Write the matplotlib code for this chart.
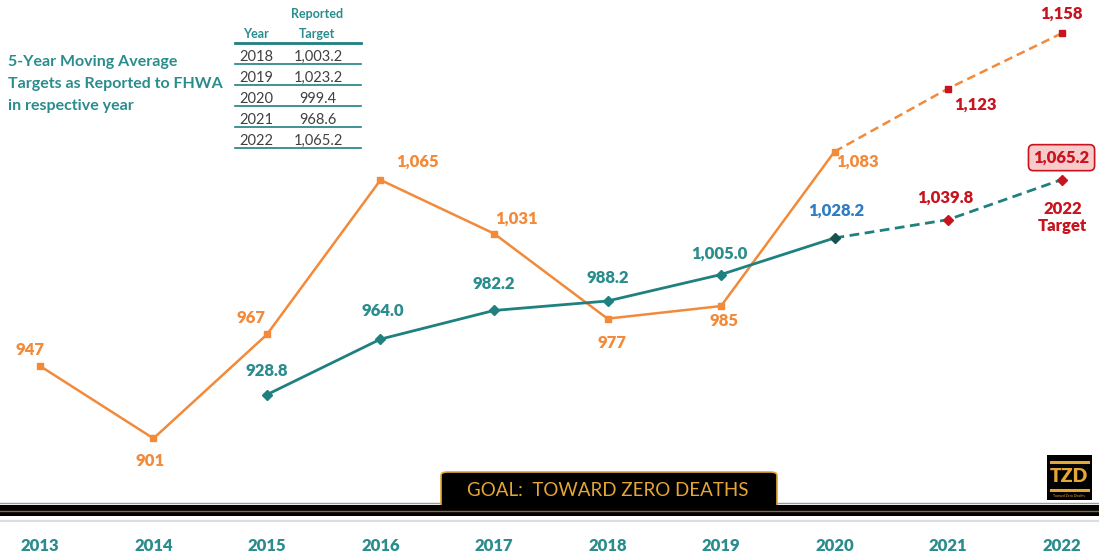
import numpy as np
import matplotlib
matplotlib.use("Agg")
import matplotlib.pyplot as plt
from matplotlib.patches import Rectangle, FancyBboxPatch

plt.rcParams['font.family'] = ['Lato', 'DejaVu Sans']

# datos
years = [2013, 2014, 2015, 2016, 2017, 2018, 2019, 2020, 2021, 2022]
annual = [947, 901, 967, 1065, 1031, 977, 985, 1083, 1123, 1158]
annual_labels = ["947", "901", "967", "1,065", "1,031", "977", "985", "1,083", "1,123", "1,158"]
ma_years = [2015, 2016, 2017, 2018, 2019, 2020, 2021, 2022]
ma_values = [928.8, 964.0, 982.2, 988.2, 1005.0, 1028.2, 1039.8, 1065.2]
ma_labels = ["928.8", "964.0", "982.2", "988.2", "1,005.0", "1,028.2", "1,039.8", "1,065.2"]
tbl_years = ["2018", "2019", "2020", "2021", "2022"]
tbl_targets = ["1,003.2", "1,023.2", "999.4", "968.6", "1,065.2"]

ORANGE = "#F28A3A"
TEAL = "#1F8080"
TEAL_TXT = "#2A8C8C"
RED = "#C8141E"
BLUE = "#2E7CC4"
GOLD = "#E4A637"

fig = plt.figure(figsize=(10.99, 5.58), dpi=100)
ax = fig.add_axes([0, 28 / 558, 1, 530 / 558])
ax.set_xlim(2012.648, 2022.330)
ax.set_ylim(842.9, 1179.2)
for s in ax.spines.values():
    s.set_visible(False)
ax.set_yticks([])
ax.set_xticks(years)
ax.set_xticklabels([str(y) for y in years])
ax.tick_params(axis='x', length=0, pad=6, labelsize=12, labelcolor=TEAL_TXT)
for t in ax.get_xticklabels():
    t.set_fontweight('heavy')

# serie anual (real hasta 2020, proyectada despues)
ax.plot(years[:8], annual[:8], color=ORANGE, lw=1.8, zorder=3)
ax.plot(years[7:], annual[7:], color=ORANGE, lw=1.8, ls=(0, (3.5, 2)), zorder=3)
ax.plot(years[:8], annual[:8], ls='none', marker='s', ms=4, color=ORANGE, zorder=4)
ax.plot(years[8:], annual[8:], ls='none', marker='s', ms=4, color=RED, zorder=4)

# promedio movil
ax.plot(ma_years[:6], ma_values[:6], color=TEAL, lw=2, zorder=3)
ax.plot(ma_years[5:], ma_values[5:], color=TEAL, lw=2, ls=(0, (3.5, 2)), zorder=3)
ax.plot(ma_years[:5], ma_values[:5], ls='none', marker='D', ms=5, color=TEAL, zorder=4)
ax.plot(ma_years[5:6], ma_values[5:6], ls='none', marker='D', ms=5, color="#17524F", zorder=4)
ax.plot(ma_years[6:], ma_values[6:], ls='none', marker='D', ms=5, color=RED, zorder=4)

# etiquetas
a_off = [(-10, 16), (-3, -23), (-16, 16), (37, 18), (22, 15), (4, -24), (3, -15), (23, -10), (27, -16), (0, 20)]
for i, (x, v) in enumerate(zip(years, annual)):
    c = RED if x > 2020 else ORANGE
    ax.annotate(annual_labels[i], (x, v), xytext=a_off[i], textcoords='offset pixels',
                ha='center', va='center', color=c, fontsize=12, fontweight='heavy')

m_off = [(0, 24), (2, 28), (0, 26), (0, 23), (-2, 21), (2, 27), (-3, 22)]
m_col = [TEAL_TXT] * 5 + [BLUE, RED]
for i in range(7):
    ax.annotate(ma_labels[i], (ma_years[i], ma_values[i]), xytext=m_off[i], textcoords='offset pixels',
                ha='center', va='center', color=m_col[i], fontsize=12, fontweight='heavy')
ax.annotate(ma_labels[7], (ma_years[7], ma_values[7]), xytext=(0, 22), textcoords='offset pixels',
            ha='center', va='center', color=RED, fontsize=12, fontweight='heavy',
            bbox=dict(boxstyle='round,pad=0.3', fc="#F9CACA", ec=RED, lw=1.2))
ax.annotate("2022\nTarget", (ma_years[7], ma_values[7]), xytext=(1, -38), textcoords='offset pixels',
            ha='center', va='center', color=RED, fontsize=12, fontweight='heavy', linespacing=1.1)

def fx(px):
    return px / 1099

def fy(py):
    return 1 - py / 558

# texto y tabla de metas
for txt, yc in [("5-Year Moving Average", 62), ("Targets as Reported to FHWA", 84), ("in respective year", 106)]:
    fig.text(fx(8), fy(yc), txt, color=TEAL_TXT, fontsize=11.5, fontweight='bold', va='center')

fig.text(fx(317), fy(14), "Reported", color=TEAL_TXT, fontsize=9, fontweight='bold', ha='center', va='center')
fig.text(fx(256), fy(34), "Year", color=TEAL_TXT, fontsize=9, fontweight='bold', ha='center', va='center')
fig.text(fx(317), fy(34), "Target", color=TEAL_TXT, fontsize=9, fontweight='bold', ha='center', va='center')
fig.add_artist(plt.Line2D([fx(235), fx(361)], [fy(43), fy(43)], color=TEAL, lw=2))
for i, (yr, tg) in enumerate(zip(tbl_years, tbl_targets)):
    yc = 57 + 21 * i
    fig.text(fx(256), fy(yc), yr, color="#404040", fontsize=10.5, ha='center', va='center')
    fig.text(fx(318), fy(yc), tg, color="#404040", fontsize=10.5, ha='center', va='center')
    fig.add_artist(plt.Line2D([fx(235), fx(361)], [fy(yc + 7), fy(yc + 7)], color=TEAL, lw=1.2))

# banda inferior
fig.add_artist(plt.Line2D([0, 1], [fy(503), fy(503)], color="#999999", lw=1, zorder=1))
tab = FancyBboxPatch((fx(441), fy(512)), fx(336), 40 / 558, boxstyle='round,pad=0,rounding_size=0.006',
                     transform=fig.transFigure, fc='black', ec=GOLD, lw=1.2, zorder=2)
fig.add_artist(tab)
fig.add_artist(Rectangle((0, fy(516)), 1, 11 / 558, transform=fig.transFigure, fc='black', ec='none', zorder=3))
fig.add_artist(plt.Line2D([0, 1], [fy(511), fy(511)], color="#8A6A2A", lw=1, zorder=4))
fig.add_artist(plt.Line2D([0, 1], [fy(521), fy(521)], color="#DDDDDD", lw=1.5, zorder=4))
fig.text(fx(608), fy(490), "GOAL:  TOWARD ZERO DEATHS", color=GOLD, fontsize=13.5, ha='center', va='center', zorder=5)

# logo TZD
fig.add_artist(Rectangle((fx(1047), fy(500)), fx(45), 45 / 558, transform=fig.transFigure, fc='black', ec='none'))
fig.add_artist(plt.Line2D([fx(1051), fx(1088)], [fy(462), fy(462)], color=GOLD, lw=2.2))
fig.add_artist(plt.Line2D([fx(1051), fx(1088)], [fy(490), fy(490)], color=GOLD, lw=2.2))
fig.text(fx(1069), fy(476), "TZD", color=GOLD, fontsize=14, fontweight='heavy', ha='center', va='center')
fig.text(fx(1069), fy(496), "Toward Zero Deaths", color=GOLD, fontsize=2.5, ha='center', va='center')

fig.savefig("out.png", dpi=100)
